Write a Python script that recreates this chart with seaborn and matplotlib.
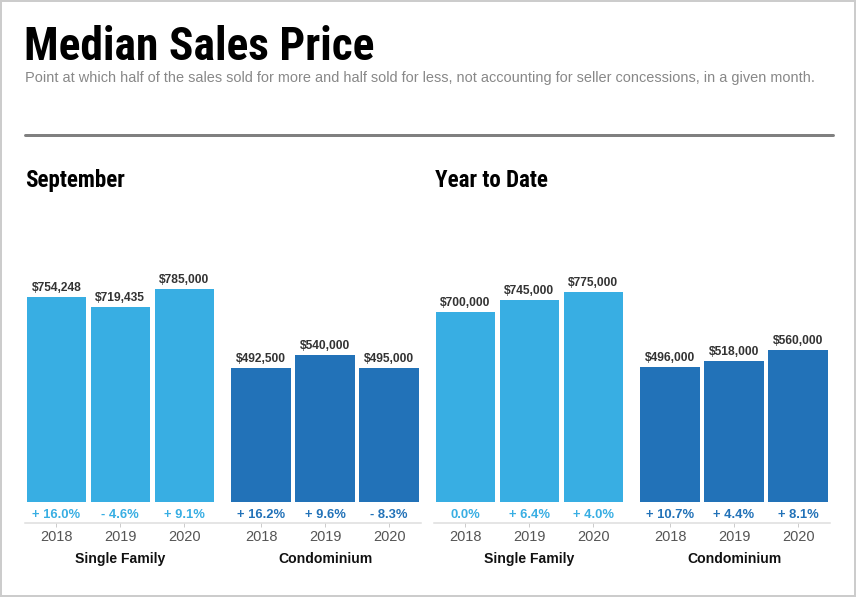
import pandas as pd
import matplotlib
matplotlib.use("Agg")
import matplotlib.pyplot as plt
import seaborn as sns
from matplotlib.lines import Line2D
from matplotlib.patches import Rectangle

# dati
years = ["2018", "2019", "2020"]
types = ["Single Family", "Condominium"]
sept_sf = [754248, 719435, 785000]
sept_condo = [492500, 540000, 495000]
ytd_sf = [700000, 745000, 775000]
ytd_condo = [496000, 518000, 560000]
sept_pct_sf = ["+ 16.0%", "- 4.6%", "+ 9.1%"]
sept_pct_condo = ["+ 16.2%", "+ 9.6%", "- 8.3%"]
ytd_pct_sf = ["0.0%", "+ 6.4%", "+ 4.0%"]
ytd_pct_condo = ["+ 10.7%", "+ 4.4%", "+ 8.1%"]

LIGHT = "#38aee3"
DARK = "#2272b8"

sns.set_style("white")
plt.rcParams["font.family"] = ["Liberation Sans", "DejaVu Sans"]
NARROW = ["Roboto Condensed", "DejaVu Sans"]

W, H = 858, 597
fig = plt.figure(figsize=(W / 72, H / 72), dpi=72)


def box(x0, y_bottom, w, h):
    return [x0 / W, (H - y_bottom) / H, w / W, h / H]


def panel(ax, sf, condo, pct_sf, pct_condo):
    gap = 0.2
    pos = [i for i in range(3)] + [3 + gap + i for i in range(3)]
    df = pd.DataFrame({
        "pos": pos,
        "price": sf + condo,
        "type": [types[0]] * 3 + [types[1]] * 3,
    })
    sns.barplot(data=df, x="pos", y="price", hue="type", native_scale=True,
                palette=[LIGHT, DARK], width=0.93, dodge=False, legend=False,
                saturation=1, edgecolor="none", ax=ax)
    for c in ax.containers:
        ax.bar_label(c, labels=[f"${v:,.0f}" for v in c.datavalues], padding=3,
                     fontsize=12, fontweight="bold", color="#333333")
    for p, lab, col in zip(pos, pct_sf + pct_condo, [LIGHT] * 3 + [DARK] * 3):
        ax.annotate(lab, xy=(p, 0), xycoords=("data", "axes fraction"),
                    xytext=(0, -13), textcoords="offset points",
                    ha="center", va="center", fontsize=13, fontweight="bold",
                    color=col)
    for k, name in enumerate(types):
        ax.annotate(name, xy=(pos[3 * k + 1], 0), xycoords=("data", "axes fraction"),
                    xytext=(0, -57), textcoords="offset points",
                    ha="center", va="center", fontsize=14, fontweight="bold",
                    color="#111111")
    ax.set_xticks(pos)
    ax.set_xticklabels(years * 2)
    ax.set_xlim(-0.49, 5.70)
    ax.set_ylim(0, 250 * 3685)
    ax.set_xlabel("")
    ax.set_ylabel("")
    ax.set_yticks([])
    for s in ["top", "left", "right"]:
        ax.spines[s].set_visible(False)
    ax.spines["bottom"].set_position(("outward", 21))
    ax.spines["bottom"].set_color("#dddddd")
    ax.spines["bottom"].set_linewidth(1.5)
    ax.tick_params(axis="x", length=4, width=1, color="#cccccc", pad=3,
                   labelsize=14.5, labelcolor="#555555", bottom=True)
    ax.set_facecolor("none")


ax1 = fig.add_axes(box(25, 502, 396, 250))
panel(ax1, sept_sf, sept_condo, sept_pct_sf, sept_pct_condo)
ax2 = fig.add_axes(box(434, 502, 396, 250))
panel(ax2, ytd_sf, ytd_condo, ytd_pct_sf, ytd_pct_condo)

# titoli e testo
fig.text(24 / W, 1 - 60 / H, "Median Sales Price", family=NARROW, fontsize=45.5,
         fontweight="bold", color="black", va="baseline")
fig.text(25 / W, 1 - 82 / H,
         "Point at which half of the sales sold for more and half sold for less, "
         "not accounting for seller concessions, in a given month.",
         fontsize=14.5, color="#888888", va="baseline")
fig.text(25 / W, 1 - 187 / H, "September", family=NARROW, fontsize=23,
         fontweight="bold", color="black", va="baseline")
fig.text(435 / W, 1 - 187 / H, "Year to Date", family=NARROW, fontsize=23,
         fontweight="bold", color="black", va="baseline")

fig.add_artist(Line2D([25 / W, 833 / W], [1 - 135 / H] * 2, color="#808080", lw=3))
fig.add_artist(Rectangle((0.001, 0.002), 0.996, 0.996, transform=fig.transFigure,
                         fill=False, edgecolor="#cccccc", lw=2))

fig.savefig("out.png", dpi=72)
